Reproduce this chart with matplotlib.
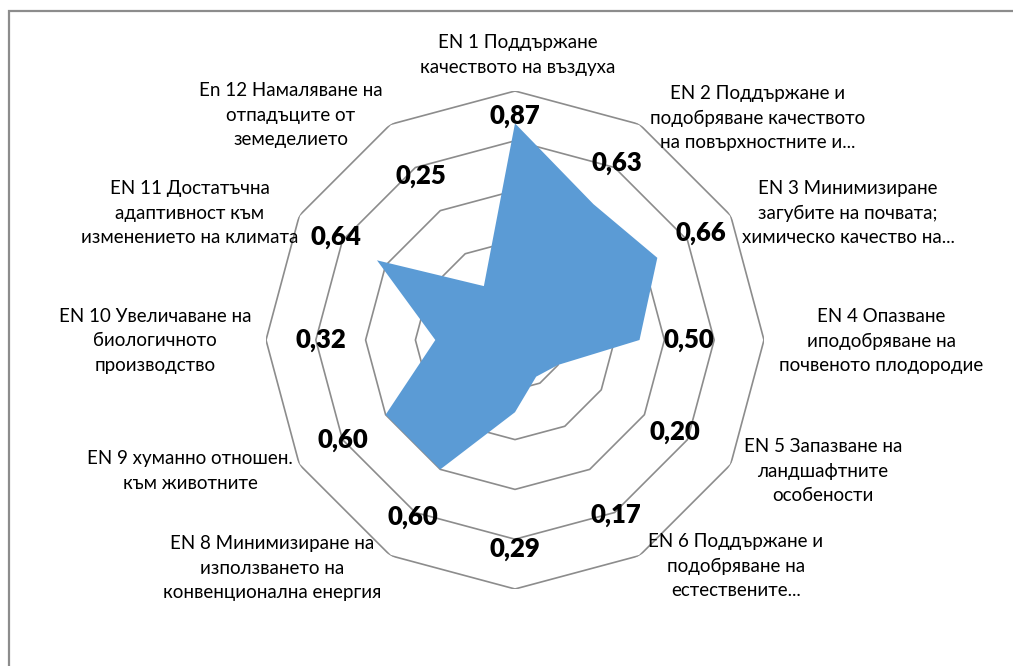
import numpy as np
import matplotlib
matplotlib.use("Agg")
import matplotlib.pyplot as plt
from matplotlib.patches import Rectangle

plt.rcParams['font.family'] = ['Lato', 'DejaVu Sans']

# ---- data ----
categories = [
    "EN 1 Поддържане\nкачеството на въздуха",
    "EN 2 Поддържане и\nподобряване качеството\nна повърхностните и...",
    "EN 3 Минимизиране\nзагубите на почвата;\nхимическо качество на...",
    "EN 4 Опазване\nиподобряване на\nпочвеното плодородие",
    "EN 5 Запазване на\nландшафтните\nособености",
    "EN 6 Поддържане и\nподобряване на\nестествените...",
    "",
    "EN 8 Минимизиране на\nизползването на\nконвенционална енергия",
    "EN 9 хуманно отношен.\nкъм животните",
    "EN 10 Увеличаване на\nбиологичното\nпроизводство",
    "EN 11 Достатъчна\nадаптивност към\nизменението на климата",
    "En 12 Намаляване на\nотпадъците от\nземеделието",
]
values = [0.87, 0.63, 0.66, 0.50, 0.20, 0.17, 0.29, 0.60, 0.60, 0.32, 0.64, 0.25]
value_labels = ["0,87", "0,63", "0,66", "0,50", "0,20", "0,17", "0,29",
                "0,60", "0,60", "0,32", "0,64", "0,25"]
rings = [0.2, 0.4, 0.6, 0.8, 1.0]

# ---- layout (positions only) ----
W, H = 1013, 666
label_radius = [0.90, 0.82, 0.86, 0.70, 0.74, 0.81, 0.84, 0.82, 0.80, 0.78, 0.83, 0.76]
cat_pos = [(518, 55), (758, 118), (848, 213), (881, 341), (823, 471), (736, 566),
           (515, 600), (272, 568), (190, 471), (155, 341), (190, 213), (291, 115)]

fig = plt.figure(figsize=(W / 100, H / 100), dpi=100)
fig.patch.set_facecolor('white')

# outer chart frame (right/bottom edges lie outside the picture)
fig.patches.append(Rectangle((8.5 / W, -1), 3, 2 - 10.5 / H, transform=fig.transFigure,
                             fill=False, edgecolor='#8c8c8c', linewidth=1.6))

cx, cy, R = 515, 340, 249
ax = fig.add_axes([(cx - R) / W, (H - cy - R) / H, 2 * R / W, 2 * R / H], projection='polar')
ax.set_theta_zero_location('N')
ax.set_theta_direction(-1)
ax.set_ylim(0, 1)
ax.grid(False)
ax.spines['polar'].set_visible(False)
ax.set_xticks([])
ax.set_yticks([])
ax.patch.set_alpha(0)

n = len(values)
theta = np.arange(n) * 2 * np.pi / n
theta_c = np.append(theta, theta[0])

for r in rings:
    ax.plot(theta_c, [r] * (n + 1), color='#8c8c8c', linewidth=1.2, zorder=1)

vals_c = np.append(values, values[0])
ax.fill(theta_c, vals_c, color='#5B9BD5', linewidth=0, zorder=2)

for t, rl, lab in zip(theta, label_radius, value_labels):
    ax.text(t, rl, lab, ha='center', va='center', fontsize=18.5, fontweight='heavy',
            color='black', zorder=3, clip_on=False)

for (x, y), lab in zip(cat_pos, categories):
    if lab:
        fig.text(x / W, 1 - y / H, lab, ha='center', va='center', fontsize=13.5,
                 color='black', linespacing=1.55, multialignment='center')

fig.savefig('out.png', dpi=100, facecolor='white')
